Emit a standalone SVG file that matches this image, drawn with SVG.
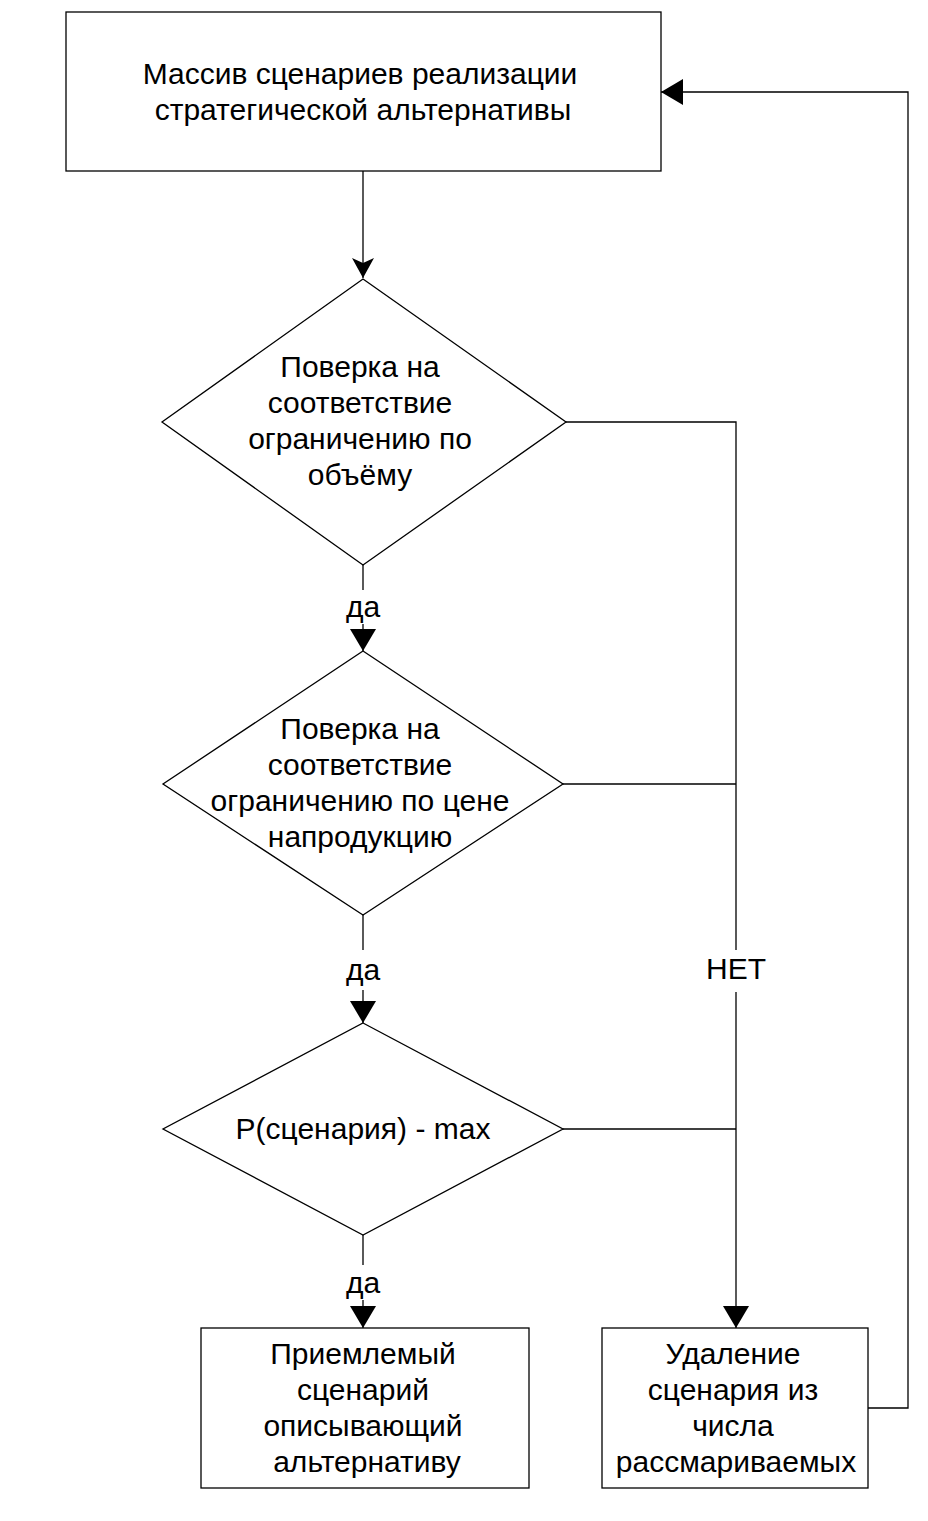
<svg xmlns="http://www.w3.org/2000/svg" width="928" height="1521" viewBox="0 0 928 1521">
<style>
.s{fill:#fff;stroke:#000;stroke-width:1.3}
.l{fill:none;stroke:#000;stroke-width:1.3}
text{font-family:"Liberation Sans",Arial,sans-serif;font-size:30px;fill:#000;text-anchor:middle}
</style>
<defs>
<marker id="a" markerWidth="22" markerHeight="26" refX="22" refY="13" orient="auto" markerUnits="userSpaceOnUse"><path d="M0,0L22,13L0,26Z" fill="#000"/></marker>
<marker id="n" markerWidth="20" markerHeight="22" refX="20" refY="11" orient="auto" markerUnits="userSpaceOnUse"><path d="M0,0L20,11L0,22L5,11Z" fill="#000"/></marker>
</defs>
<rect width="928" height="1521" fill="#fff"/>
<g id="connectors">
<line class="l" x1="363" y1="171" x2="363" y2="278" marker-end="url(#n)"/>
<line class="l" x1="363" y1="565" x2="363" y2="590"/>
<line class="l" x1="363" y1="624" x2="363" y2="651" marker-end="url(#a)"/>
<line class="l" x1="363" y1="915" x2="363" y2="950"/>
<line class="l" x1="363" y1="990" x2="363" y2="1023" marker-end="url(#a)"/>
<line class="l" x1="363" y1="1235" x2="363" y2="1265"/>
<line class="l" x1="363" y1="1300" x2="363" y2="1328" marker-end="url(#a)"/>
<polyline class="l" points="566,422 736,422 736,950"/>
<line class="l" x1="563" y1="784" x2="736" y2="784"/>
<line class="l" x1="563" y1="1129" x2="736" y2="1129"/>
<line class="l" x1="736" y1="992" x2="736" y2="1328" marker-end="url(#a)"/>
<polyline class="l" points="868,1408 908,1408 908,92 661,92" marker-end="url(#a)"/>
<text x="363" y="617">да</text>
<text x="363" y="980">да</text>
<text x="363" y="1293">да</text>
<text x="736" y="979">НЕТ</text>
</g>
<g id="n1">
<rect class="s" x="66" y="12" width="595" height="159"/>
<text x="360" y="84">Массив сценариев реализации</text>
<text x="363" y="120">стратегической альтернативы</text>
</g>
<g id="d1">
<polygon class="s" points="363,279 566,422 363,565 162,422"/>
<text x="360" y="377">Поверка на</text>
<text x="360" y="413">соответствие</text>
<text x="360" y="449">ограничению по</text>
<text x="360" y="485">объёму</text>
</g>
<g id="d2">
<polygon class="s" points="363,651 563,784 363,915 163,784"/>
<text x="360" y="739">Поверка на</text>
<text x="360" y="775">соответствие</text>
<text x="360" y="811">ограничению по цене</text>
<text x="360" y="847">напродукцию</text>
</g>
<g id="d3">
<polygon class="s" points="363,1023 563,1129 363,1235 163,1129"/>
<text x="363" y="1139">Р(сценария) - max</text>
</g>
<g id="n2">
<rect class="s" x="201" y="1328" width="328" height="160"/>
<text x="363" y="1364">Приемлемый</text>
<text x="363" y="1400">сценарий</text>
<text x="363" y="1436">описывающий</text>
<text x="367" y="1472">альтернативу</text>
</g>
<g id="n3">
<rect class="s" x="602" y="1328" width="266" height="160"/>
<text x="733" y="1364">Удаление</text>
<text x="733" y="1400">сценария из</text>
<text x="733" y="1436">числа</text>
<text x="736" y="1472">рассмариваемых</text>
</g>
</svg>
